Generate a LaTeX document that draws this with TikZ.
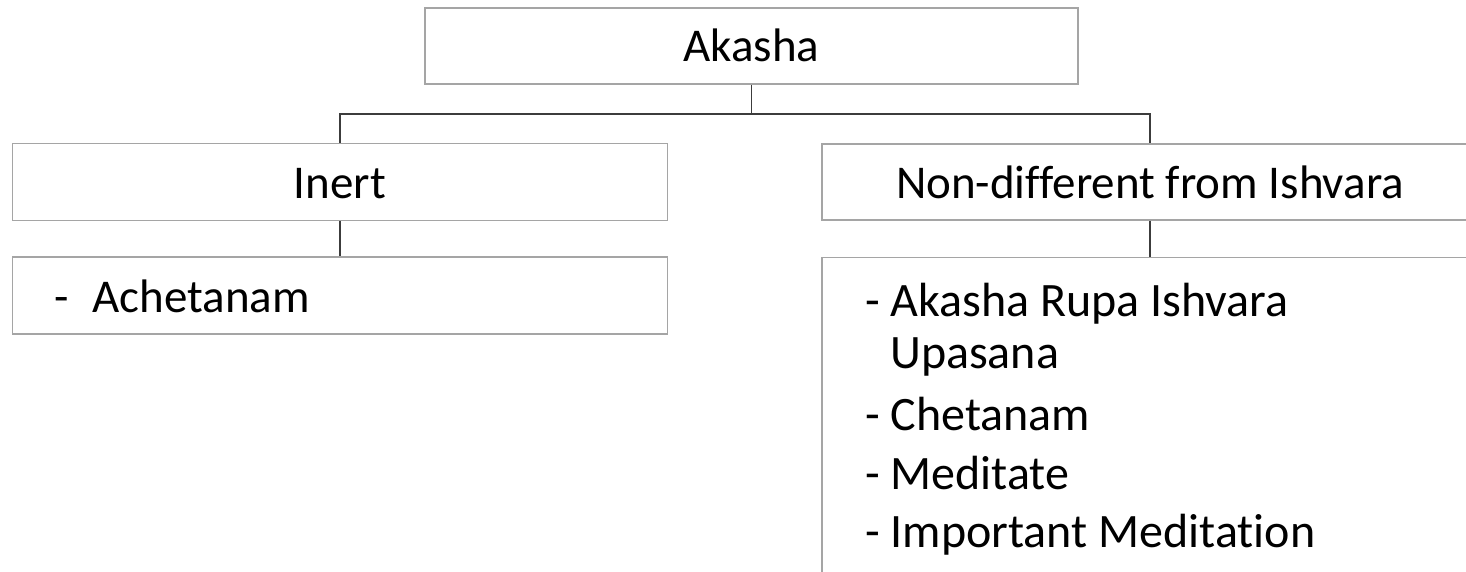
\documentclass[tikz,border=0pt]{standalone}
\usepackage{fontspec}
\setmainfont{Carlito}[Ligatures=NoCommon]
\definecolor{boxgray}{RGB}{165,165,165}
\definecolor{conngray}{RGB}{60,60,60}
\begin{document}
\begin{tikzpicture}[x=1pt,y=-1pt,
  box/.style={draw=boxgray, line width=1.3pt, inner sep=0pt, text height=32pt, text depth=0pt,
              font=\fontsize{47}{52}\selectfont},
  conn/.style={draw=conngray, line width=1.5pt},
  txt/.style={anchor=base west, inner sep=0pt, font=\fontsize{48}{52}\selectfont}]
\useasboundingbox (0,0) rectangle (1466,572);
\clip (0,0) rectangle (1466,572);
\fill[white] (0,0) rectangle (1466,572);
% boxes
\node[box, minimum width=653pt, minimum height=76pt] (akasha) at (751.5,46) {Akasha};
\node[box, minimum width=655pt, minimum height=77pt] (inert) at (340,182) {Inert};
\node[box, minimum width=656pt, minimum height=76pt] (nondiff) at (1150,182) {Non-different from Ishvara};
\node[box, minimum width=655pt, minimum height=77pt] (achet) at (340,295.5) {};
\node[box, minimum width=656pt, minimum height=340pt, anchor=north] (list) at (1150,257) {};
% connectors
\coordinate (bus) at (752,114);
\draw[conn] (akasha.south) -- (akasha.south |- bus) -| (inert.north);
\draw[conn] (akasha.south |- bus) -| (nondiff.north);
\draw[conn] (inert.south) -- (achet.north);
\draw[conn] (nondiff.south) -- (list.north);
% texts
\node[txt, font=\fontsize{47}{52}\selectfont] (t0) at (54,312) {-\hspace{24pt}Achetanam};
\node[txt] (t1) at (865,316) {- Akasha Rupa Ishvara};
\node[txt] (t2) at (890,368) {Upasana};
\node[txt] (t3) at (865,430) {- Chetanam};
\node[txt] (t4) at (865,489) {- Meditate};
\node[txt] (t5) at (865,547) {- Important Meditation};
\end{tikzpicture}
\end{document}
